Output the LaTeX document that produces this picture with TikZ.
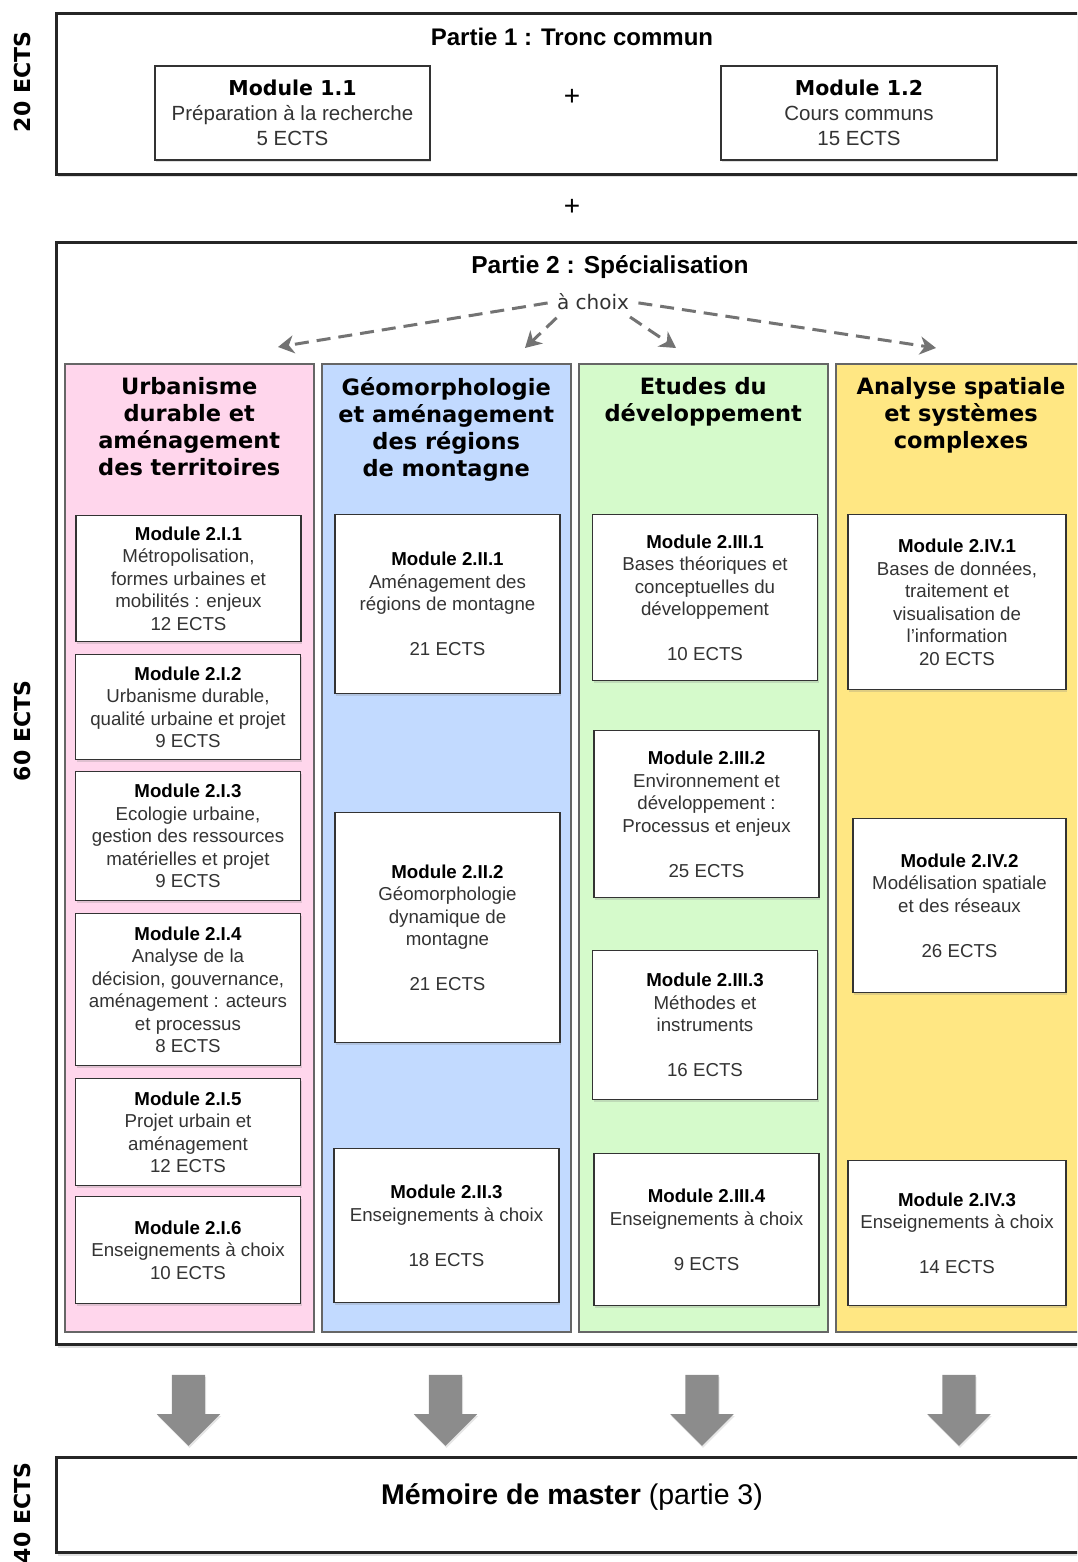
\documentclass[tikz,border=0pt]{standalone}
\usepackage{fontspec}
\setmainfont{Liberation Sans}
\newfontfamily\verdana{DejaVu Sans}
\usetikzlibrary{positioning,arrows.meta,shapes.arrows,shadows}

\definecolor{pinkcol}{HTML}{FFD6EC}
\definecolor{bluecol}{HTML}{C2DAFF}
\definecolor{greencol}{HTML}{D5FACB}
\definecolor{yellowcol}{HTML}{FFE783}
\definecolor{bodytext}{HTML}{333333}

\begin{document}
\begin{tikzpicture}[
        x=1pt, y=-1pt,
        partbox/.style={draw=black!85, line width=3pt, fill=white, anchor=north west, inner sep=0pt,
            drop shadow={shadow xshift=1pt, shadow yshift=-3pt, opacity=0.25}},
        colbox/.style={draw=black!60, line width=1.5pt, anchor=north west, inner sep=0pt, minimum width=249pt, minimum height=968pt},
        colhead/.style={align=center, inner sep=0pt, font=\verdana\bfseries\fontsize{22.5}{27}\selectfont},
        bigmodule/.style={draw=black!80, line width=1.3pt, fill=white, align=center, inner sep=0pt,
            minimum height=94pt, text=bodytext, font=\fontsize{20.5}{25}\selectfont,
            drop shadow={shadow xshift=1pt, shadow yshift=-2pt, opacity=0.25}},
        module/.style={draw=black!80, line width=1.3pt, fill=white, align=center, inner sep=0pt, anchor=north,
            minimum width=225pt, text=bodytext, font=\fontsize{18.7}{22.5}\selectfont,
            drop shadow={shadow xshift=1pt, shadow yshift=-2pt, opacity=0.25}},
        sidelabel/.style={rotate=90, font=\verdana\bfseries\fontsize{22}{26}\selectfont},
        choice/.style={draw=black!55, line width=3pt, dash pattern=on 14pt off 8pt,
            -{Stealth[length=16pt,width=18pt,inset=5pt]}, shorten <=6pt},
        downarrow/.style={single arrow, rotate=-90, fill=black!45, draw=none, inner sep=0pt,
            text width=0pt, text height=16.5pt, text depth=16.5pt,
            minimum height=71pt, single arrow head extend=15pt,
            drop shadow={shadow xshift=1pt, shadow yshift=-2pt, opacity=0.2}}
    ]
        \clip (0,0) rectangle (1077,1562);

        % Partie 1
        \node[partbox, minimum width=1060pt, minimum height=161pt] (part1) at (55,12) {};
        \node[font=\bfseries\fontsize{24}{28}\selectfont] (title1) at (572,37) {Partie 1 : Tronc commun};
        \node[bigmodule, minimum width=275pt] (m11) at (292.5,113)
            {{\verdana\bfseries\color{black}Module 1.1}\\Préparation à la recherche\\5 ECTS};
        \node[bigmodule, minimum width=276pt] (m12) at (859,113)
            {{\verdana\bfseries\color{black}Module 1.2}\\Cours communs\\15 ECTS};
        \node[font=\fontsize{28}{30}\selectfont] (plus1) at (572,97) {+};
        \node[font=\fontsize{28}{30}\selectfont] (plus2) at (572,207) {+};

        % Partie 2
        \node[partbox, minimum width=1060pt, minimum height=1102pt] (part2) at (55,241) {};
        \node[font=\bfseries\fontsize{24.5}{28}\selectfont] (title2) at (610,267) {Partie 2 : Spécialisation};
        \node[text=bodytext, font=\verdana\fontsize{20}{24}\selectfont] (choix) at (593,302) {à choix};

        % colonnes
        \node[colbox, fill=pinkcol] (col1) at (64,363) {};
        \node[colbox, fill=bluecol] (col2) at (321,363) {};
        \node[colbox, fill=greencol] (col3) at (578,363) {};
        \node[colbox, fill=yellowcol, minimum width=270pt] (col4) at (835,363) {};

        \node[colhead, below=14pt of col1.north] (head1) {Urbanisme\\durable et\\aménagement\\des territoires};
        \node[colhead, below=14pt of col2.north] (head2) {Géomorphologie\\et aménagement\\des régions\\de montagne};
        \node[colhead, below=14pt of col3.north] (head3) {Etudes du\\développement};
        \node[colhead, below=14pt of col4.north west, xshift=126pt] (head4) {Analyse spatiale\\et systèmes\\complexes};

        % flèches à choix
        \coordinate (t1) at (278,347);
        \coordinate (t2) at (525,348);
        \coordinate (t3) at (676,348);
        \coordinate (t4) at (936,348);
        \draw[choice] (choix.west) -- (t1);
        \draw[choice] (choix.200) -- (t2);
        \draw[choice] (choix.-20) -- (t3);
        \draw[choice] (choix.east) -- (t4);

        % modules 2.I
        \node[module, minimum height=126pt] (m2i1) at (188.5,515)
            {{\bfseries\color{black}Module 2.I.1}\\Métropolisation,\\formes urbaines et\\mobilités : enjeux\\12 ECTS};
        \node[module, minimum height=105pt] (m2i2) at (188,654)
            {{\bfseries\color{black}Module 2.I.2}\\Urbanisme durable,\\qualité urbaine et projet\\9 ECTS};
        \node[module, minimum height=129pt] (m2i3) at (188,771)
            {{\bfseries\color{black}Module 2.I.3}\\Ecologie urbaine,\\gestion des ressources\\matérielles et projet\\9 ECTS};
        \node[module, minimum height=152pt] (m2i4) at (188,913)
            {{\bfseries\color{black}Module 2.I.4}\\Analyse de la\\décision, gouvernance,\\aménagement : acteurs\\et processus\\8 ECTS};
        \node[module, minimum height=107pt] (m2i5) at (188,1078)
            {{\bfseries\color{black}Module 2.I.5}\\Projet urbain et\\aménagement\\12 ECTS};
        \node[module, minimum height=107pt] (m2i6) at (188,1196)
            {{\bfseries\color{black}Module 2.I.6}\\Enseignements à choix\\10 ECTS};

        % modules 2.II
        \node[module, minimum height=179pt] (m2ii1) at (447.5,514)
            {{\bfseries\color{black}Module 2.II.1}\\Aménagement des\\régions de montagne\\~\\21 ECTS};
        \node[module, minimum height=230pt] (m2ii2) at (447.5,812)
            {{\bfseries\color{black}Module 2.II.2}\\Géomorphologie\\dynamique de\\montagne\\~\\21 ECTS};
        \node[module, minimum height=154pt] (m2ii3) at (446.5,1148)
            {{\bfseries\color{black}Module 2.II.3}\\Enseignements à choix\\~\\18 ECTS};

        % modules 2.III
        \node[module, minimum height=166pt] (m2iii1) at (705,514)
            {{\bfseries\color{black}Module 2.III.1}\\Bases théoriques et\\conceptuelles du\\développement\\~\\10 ECTS};
        \node[module, minimum height=167pt] (m2iii2) at (706.5,730)
            {{\bfseries\color{black}Module 2.III.2}\\Environnement et\\développement :\\Processus et enjeux\\~\\25 ECTS};
        \node[module, minimum height=149pt] (m2iii3) at (705,950)
            {{\bfseries\color{black}Module 2.III.3}\\Méthodes et\\instruments\\~\\16 ECTS};
        \node[module, minimum height=152pt] (m2iii4) at (706.5,1153)
            {{\bfseries\color{black}Module 2.III.4}\\Enseignements à choix\\~\\9 ECTS};

        % modules 2.IV
        \node[module, minimum width=218pt, minimum height=175pt] (m2iv1) at (957,514)
            {{\bfseries\color{black}Module 2.IV.1}\\Bases de données,\\traitement et\\visualisation de\\l’information\\20 ECTS};
        \node[module, minimum width=213pt, minimum height=174pt] (m2iv2) at (959.5,818)
            {{\bfseries\color{black}Module 2.IV.2}\\Modélisation spatiale\\et des réseaux\\~\\26 ECTS};
        \node[module, minimum width=218pt, minimum height=145pt] (m2iv3) at (957,1160)
            {{\bfseries\color{black}Module 2.IV.3}\\Enseignements à choix\\~\\14 ECTS};

        % vers le mémoire
        \foreach \n/\x in {1/188.5,2/445.5,3/702,4/959}
            \node[downarrow] (down\n) at (\x,1402) {};

        % Partie 3
        \node[partbox, minimum width=1060pt, minimum height=95pt] (part3) at (55,1456) {};
        \node[font=\fontsize{28.5}{32}\selectfont] (memoire) at (572,1497) {\textbf{Mémoire de master} (partie 3)};

        % ECTS
        \node[sidelabel] (ects1) at (22,82) {20 ECTS};
        \node[sidelabel] (ects2) at (22,731) {60 ECTS};
        \node[sidelabel] (ects3) at (22,1513) {40 ECTS};
    \end{tikzpicture}
\end{document}
